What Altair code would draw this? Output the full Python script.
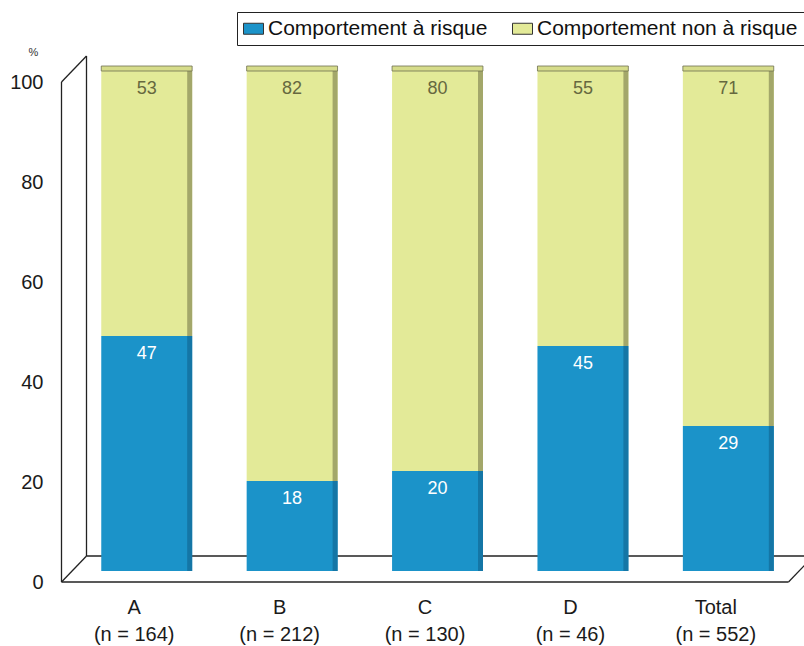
import altair as alt
import pandas as pd

# ---- data -------------------------------------------------------------
groups = ["A", "B", "C", "D", "Total"]
group_sizes = [164, 212, 130, 46, 552]
risk = [47, 18, 20, 45, 29]
no_risk = [53, 82, 80, 55, 71]

series = ["Comportement à risque", "Comportement non à risque"]
fill_colors = ["#1b93c9", "#e3ea98"]
edge_colors = ["#1476a6", "#a3a76a"]
label_colors = ["#ffffff", "#66683f"]

rows = []
for g, n, r, nr in zip(groups, group_sizes, risk, no_risk):
    rows.append({"group": g, "n": f"(n = {n})", "type": series[0], "rank": 0, "value": r})
    rows.append({"group": g, "n": f"(n = {n})", "type": series[1], "rank": 1, "value": nr})
df = pd.DataFrame(rows)

# ---- layout -----------------------------------------------------------
W, H = 727, 500          # plot area (mid-depth plane of the pseudo-3D box)
DX = 12.5                # half depth, horizontal
FRONT_DY, BACK_DY = 11, -15
FONT = "Liberation Sans"
LINE = "#222222"

x_enc = alt.X(
    "group:N",
    sort=groups,
    axis=None,
    scale=alt.Scale(paddingInner=0.375, paddingOuter=0.1875),
)
y_scale = alt.Scale(domain=[0, 100], nice=False)

base = alt.Chart(df).transform_stack(
    stack="value", groupby=["group"], as_=["y0", "y1"],
    sort=[alt.SortField("rank", order="ascending")],
)

# stacked bars with the legend
bars = base.mark_bar().encode(
    x=x_enc,
    y=alt.Y(
        "y0:Q",
        scale=y_scale,
        axis=alt.Axis(
            values=[0, 20, 40, 60, 80, 100],
            domain=False, ticks=False, grid=False,
            labelFontSize=20, labelFont=FONT, labelColor="#1a1a1a",
            labelPadding=31, labelOffset=FRONT_DY,
            title="%", titleAngle=0, titleFontSize=11, titleFont=FONT,
            titleFontWeight="normal", titleColor="#333333",
            titleX=-41, titleY=-19, titleAlign="center", titleBaseline="middle",
        ),
    ),
    y2="y1:Q",
    color=alt.Color(
        "type:N",
        scale=alt.Scale(domain=series, range=fill_colors),
        legend=alt.Legend(
            title=None, orient="none", legendX=163, legendY=-59,
            direction="horizontal",
            symbolType="M-1,-0.55H1V0.55H-1Z", symbolSize=400,
            symbolStrokeColor="#333333", symbolStrokeWidth=1,
            symbolOpacity=1,
            labelFontSize=21, labelFont=FONT, labelColor="#111111",
            labelLimit=400, labelOffset=4, columnPadding=22,
            padding=6, strokeColor=LINE, fillColor="white",
        ),
    ),
)

# shaded right-hand side of each bar
sides = base.mark_bar(width=5, xOffset=43).encode(
    x=x_enc,
    y=alt.Y("y0:Q", scale=y_scale),
    y2="y1:Q",
    fill=alt.condition(alt.datum.rank == 0, alt.value(edge_colors[0]), alt.value(edge_colors[1])),
)

# top face of each bar
tops = base.transform_filter(alt.datum.rank == 1).mark_bar(
    y2Offset=-5, fill="#d6dc8a", stroke="#6f7050", strokeWidth=0.8,
).encode(
    x=x_enc,
    y=alt.Y("y1:Q", scale=y_scale),
    y2="y1:Q",
)

# values written at the top of each segment
values = base.mark_text(baseline="middle", dy=18, fontSize=18, font=FONT).encode(
    x=x_enc,
    y=alt.Y("y1:Q", scale=y_scale),
    text="value:Q",
    fill=alt.condition(alt.datum.rank == 0, alt.value(label_colors[0]), alt.value(label_colors[1])),
)

# category labels on the front edge
cat_src = base.transform_filter(alt.datum.rank == 0)
cat_name = cat_src.mark_text(baseline="middle", dx=-DX, dy=37, fontSize=20, font=FONT,
                             color="#1a1a1a").encode(
    x=x_enc, y=alt.Y("y0:Q", scale=y_scale), text="group:N")
cat_n = cat_src.mark_text(baseline="middle", dx=-DX, dy=64, fontSize=20, font=FONT,
                          color="#1a1a1a").encode(
    x=x_enc, y=alt.Y("y0:Q", scale=y_scale), text="n:N")

# pseudo-3D frame: left wall and floor
one = pd.DataFrame({"k": [0]})


def edge(x1, x2, v1, v2, off1, off2):
    return alt.Chart(one).mark_rule(
        color=LINE, strokeWidth=1.3, yOffset=off1, y2Offset=off2,
    ).encode(
        x=alt.value(x1), x2=alt.value(x2),
        y=alt.datum(v1, scale=y_scale), y2=alt.datum(v2),
    )


frame = [
    edge(-DX, -DX, 100, 0, FRONT_DY, FRONT_DY),         # wall, front edge
    edge(DX, DX, 100, 0, BACK_DY, BACK_DY),             # wall, back edge
    edge(-DX, DX, 100, 100, FRONT_DY, BACK_DY),         # wall, top edge
    edge(-DX, W - DX, 0, 0, FRONT_DY, FRONT_DY),        # floor, front
    edge(DX, W + DX, 0, 0, BACK_DY, BACK_DY),           # floor, back
    edge(-DX, DX, 0, 0, FRONT_DY, BACK_DY),             # floor, left
    edge(W - DX, W + DX, 0, 0, FRONT_DY, BACK_DY),      # floor, right
]

chart = alt.layer(
    *frame, bars, sides, tops, values, cat_name, cat_n,
).properties(
    width=W, height=H,
    autosize=alt.AutoSizeParams(type="none"),
    padding={"left": 74, "top": 71, "right": 3, "bottom": 75},
    background="white",
).configure_view(stroke=None)

chart.save("out.html", embed_options={"renderer": "svg", "actions": False})
